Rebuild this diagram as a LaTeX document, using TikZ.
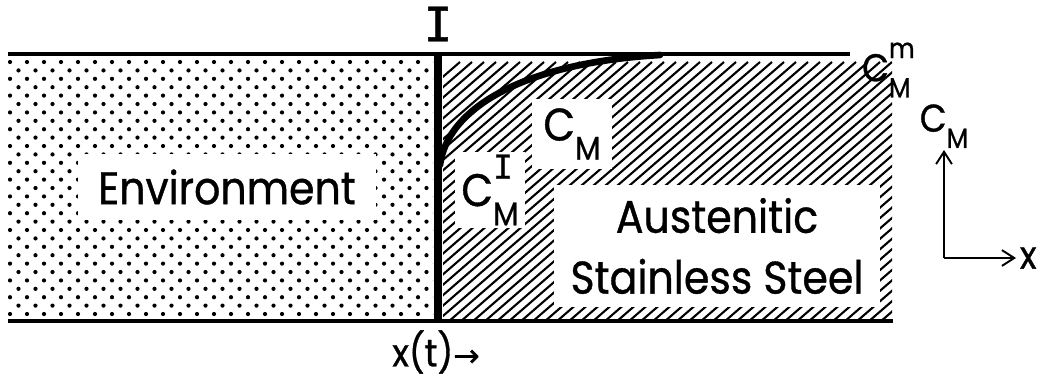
\documentclass[tikz,border=0pt]{standalone}
\usepackage{fontspec}
\setmainfont{Poppins}[FakeStretch=0.9, FakeBold=0.8]
\newfontfamily\serifI{DejaVu Sans Mono}[FakeBold=0.8]
\newfontfamily\arrowfont{DejaVu Sans}[FakeBold=0.6]
\usetikzlibrary{positioning, arrows.meta, calc}
\newcommand{\conc}[1]{C\rlap{\raisebox{0.6em}{\scalebox{0.72}{#1}}}\raisebox{-0.42em}{\scalebox{0.72}{M}}}

\begin{document}
\begin{tikzpicture}[
    x=0.02cm, y=-0.02cm,
    % --- Styles ---
    wall/.style={line width=2.8pt},
    interface/.style={line width=5pt},
    profile/.style={line width=3.8pt, line cap=round},
    hatchline/.style={line width=1.2pt},
    whitebox/.style={fill=white, inner sep=0pt, align=center},
    bigtext/.style={font=\fontsize{26}{34.6}\selectfont},
    smalltext/.style={font=\fontsize{22}{26}\selectfont, inner sep=1pt},
    axis/.style={line width=1.1pt, -{Straight Barb[length=7pt, width=9pt, line width=1.1pt]}}
  ]

  \useasboundingbox (0,0) rectangle (1044,383);

  % --- 1. Environment (dotted) ---
  \begin{scope}
    \clip (8,56) rectangle (433,320);
    \foreach \r in {0,...,31}
      \foreach \c in {0,...,25}
        \fill ({10+17*\c+8.5*mod(\r,2)},{62+8.4*\r}) circle (1.2pt);
  \end{scope}

  % --- 2. Steel (hatched) ---
  \begin{scope}
    \clip (443,55) rectangle (892,320);
    \foreach \k in {0,...,62}
      \draw[hatchline] ({160+12*\k},322) -- ++(300,-260);
  \end{scope}

  % white patches with the labels
  \node[whitebox, bigtext, minimum width=170pt, minimum height=38pt] (env) at (227,187) {Environment};
  \node[whitebox, bigtext, minimum width=186pt, minimum height=69pt] (steel) at (717,246) {Austenitic\\Stainless Steel};
  \node[whitebox, bigtext, minimum width=45pt, minimum height=40pt] (cm) at (572,134) {\conc{}};
  \node[whitebox, bigtext, minimum width=40pt, minimum height=43pt] (cmi) at (490,190) {\conc{\serifI I}};

  % --- 3. Boundaries ---
  \coordinate (topL) at (8,54);
  \coordinate (topR) at (850,54);
  \coordinate (botL) at (8,321);
  \coordinate (botR) at (893,321);
  \coordinate (ifTop) at (438,54);
  \coordinate (ifBot) at (438,321);
  \draw[wall] (topL) -- (topR);
  \draw[wall] (botL) -- (botR);
  \draw[interface] (ifTop) -- (ifBot);

  % concentration profile
  \coordinate (profStart) at (440,165);
  \coordinate (profEnd) at (660,55);
  \draw[profile] (profStart) .. controls (447,110) and (520,63) .. (profEnd);

  % labels
  \node[font=\serifI\fontsize{27}{27}\selectfont, inner sep=0pt] (iface) at (438,24) {I};
  \node[smalltext, anchor=west] (cmm) at (860,70) {\conc{m}};
  \node[smalltext] (xt) at (436,352) {x(t){\arrowfont\fontsize{18}{18}\selectfont →}};

  % --- 4. Axes ---
  \coordinate (origin) at (944,258);
  \coordinate (ytip) at (944,150);
  \coordinate (xtip) at (1016,258);
  \draw[axis] (origin) -- (ytip);
  \draw[axis] (origin) -- (xtip);
  \node[smalltext, above=0pt of ytip] (cmaxis) {\conc{}};
  \node[smalltext, right=1pt of xtip] (xlabel) {x};

\end{tikzpicture}
\end{document}
